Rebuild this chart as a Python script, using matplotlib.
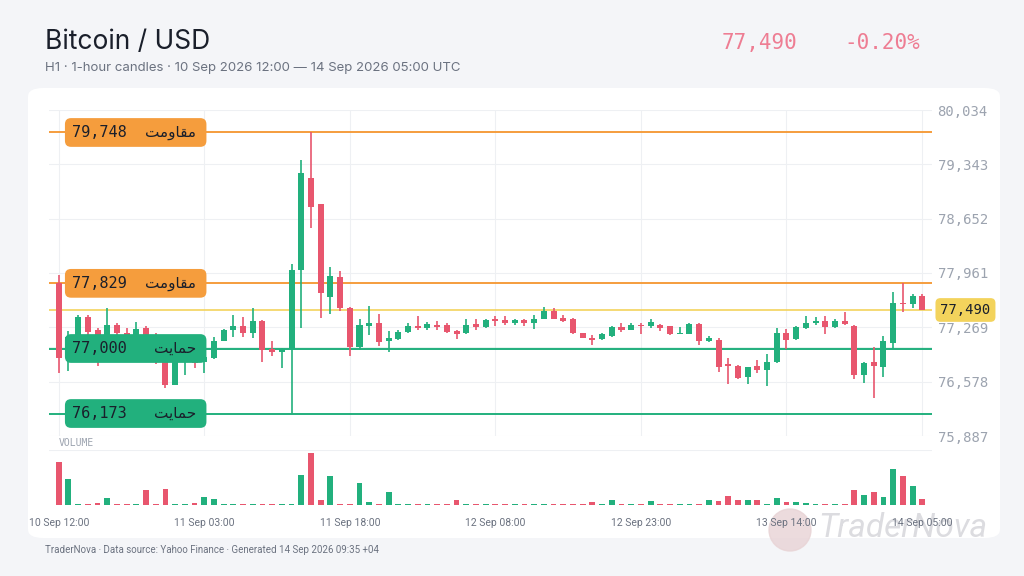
import matplotlib
matplotlib.use("Agg")
import matplotlib.pyplot as plt
from matplotlib.patches import FancyBboxPatch, Ellipse
import numpy as np

opens = [77833,76950,77050,77400,77230,77100,77300,77200,77100,77260,77150,76830,76540,76900,76950,76830,76880,77100,77240,77280,
         77200,77350,77000,76950,77000,78000,79170,78840,77660,77910,77520,77020,77290,77330,77100,77120,77210,77290,77260,77300,
         77300,77220,77200,77310,77270,77370,77360,77330,77360,77330,77380,77480,77390,77380,77200,77140,77120,77160,77270,77240,
         77300,77280,77300,77280,77190,77190,77310,77090,77110,76800,76780,76640,76780,76730,76830,77200,77120,77260,77320,77350,
         77270,77350,77290,76660,76830,76770,77070,77580,77560,77670]
closes = [76880,77150,77400,77210,77150,77300,77200,77150,77250,77150,76850,76540,76950,76980,76820,76890,77100,77240,77290,77200,
          77350,76980,76950,77000,78000,79230,78800,77710,77920,77520,77020,77300,77330,77080,77130,77210,77290,77260,77310,77270,
          77210,77180,77300,77270,77360,77350,77320,77360,77330,77380,77480,77380,77350,77200,77140,77110,77180,77270,77240,77300,
          77280,77340,77260,77180,77200,77310,77100,77130,76770,76780,76620,76760,76730,76830,77200,77110,77270,77320,77350,77270,
          77350,77310,76660,76820,76780,77090,77580,77560,77670,77490]
highs = [77935,77220,77420,77420,77260,77520,77330,77260,77340,77280,77200,76870,77000,77020,76990,76920,77150,77250,77430,77400,
         77520,77360,77100,77010,78080,79400,79760,78840,78040,77990,77530,77370,77540,77440,77220,77230,77330,77410,77340,77350,
         77330,77240,77370,77370,77370,77410,77410,77370,77370,77420,77530,77510,77420,77390,77200,77170,77200,77290,77330,77320,
         77330,77370,77310,77290,77270,77320,77320,77160,77130,76880,76790,76770,76860,76930,77260,77250,77280,77410,77400,77410,
         77370,77470,77300,76830,77020,77160,77720,77830,77690,77690]
lows = [76690,76720,76950,77100,76780,77000,77120,77050,77000,77050,76800,76500,76530,76660,76750,76690,76870,77090,77150,77150,
        77130,76830,76900,76750,76170,77260,78530,77390,77440,77480,76900,76980,77170,77030,76950,77110,77200,77240,77230,77230,
        77200,77120,77190,77240,77260,77290,77300,77300,77290,77250,77370,77370,77340,77180,77130,77050,77110,77150,77210,77230,
        77180,77260,77220,77170,77180,77180,77040,77080,76700,76550,76610,76550,76690,76520,76820,76990,77110,77250,77300,77180,
        77260,77300,76610,76560,76370,76640,77000,77460,77510,77490]
volume = [128,78,2,2,5,22,2,2,2,44,2,48,2,2,6,23,17,2,2,2,
          2,4,2,2,2,90,155,14,88,2,2,65,8,2,38,2,2,2,2,2,
          2,14,2,2,2,2,2,2,2,2,2,2,2,2,2,10,2,16,2,3,
          2,12,2,4,2,2,2,16,12,28,14,15,15,2,20,8,8,6,2,2,
          2,2,44,30,38,25,107,88,58,17]
tick_idx = [0,15,30,45,60,75,89]
tick_labels = ["10 Sep 12:00","11 Sep 03:00","11 Sep 18:00","12 Sep 08:00","12 Sep 23:00","13 Sep 14:00","14 Sep 05:00"]
price_ticks = [75887,76578,77269,77961,78652,79343,80034]
res_levels = [79748,77829]
sup_levels = [77000,76173]
last_price = 77490
change_pct = -0.20

GREEN = "#22b07d"; RED = "#e8566e"; ORANGE = "#f59d3d"; YEL = "#f3d35c"
MONO = ["DejaVu Sans Mono", "DejaVu Sans"]
AR_RES = "\uFE96\uFEE3\uFEED\uFE8E\uFED8\uFEE3"
AR_SUP = "\uFE96\uFEF3\uFE8E\uFEE4\uFEA3"

fig = plt.figure(figsize=(10.24, 5.76), dpi=100)
fig.patch.set_facecolor("#f4f5f8")
card = FancyBboxPatch((28/1024, 38/576), 972/1024, 450/576, boxstyle="round,pad=0,rounding_size=0.015",
                      transform=fig.transFigure, facecolor="white", edgecolor="none", zorder=-10)
fig.patches.append(card)
fig.patches.append(Ellipse((790/1024, 1-530/576), 42/1024, 42/576, transform=fig.transFigure,
                           color="#e8d3d5", alpha=0.8, zorder=-5))
fig.text(818/1024, 1-528/576, "TraderNova", fontsize=24, color="#dcdce0", style="italic", va="center",
         family="Roboto", zorder=-5)

fig.text(45/1024, 1-42/576, "Bitcoin / USD", fontsize=19, color="#1a1f2b", va="center", family="Inter")
fig.text(45/1024, 1-68/576, "H1 · 1-hour candles · 10 Sep 2026 12:00 — 14 Sep 2026 05:00 UTC", fontsize=9.5, color="#6b7280", va="center", family="Inter")
fig.text(797/1024, 1-43/576, f"{last_price:,}", fontsize=15, color="#ee7d93", ha="right", va="center", family=MONO)
fig.text(920/1024, 1-43/576, f"{change_pct:.2f}%", fontsize=15, color="#ee7d93", ha="right", va="center", family=MONO)
fig.text(45/1024, 1-550/576, "TraderNova · Data source: Yahoo Finance · Generated 14 Sep 2026 09:35 +04", fontsize=7, color="#6b7280", va="center", family="Roboto")

x = np.arange(len(opens))
ax = fig.add_axes([49/1024, 1-436/576, 883/1024, 326/576])
ax.patch.set_alpha(0)
ax.set_xlim(-1, 90); ax.set_ylim(price_ticks[0], price_ticks[-1])
for s in ax.spines.values(): s.set_visible(False)
ax.set_yticks(price_ticks); ax.set_yticklabels([f"{v:,}" for v in price_ticks], family=MONO, fontsize=10, color="#9ca3af")
ax.yaxis.tick_right(); ax.tick_params(axis="y", length=0, pad=4)
ax.set_xticks(tick_idx); ax.tick_params(axis="x", length=0, labelbottom=False)
ax.grid(True, color="#eef0f3", lw=0.8); ax.set_axisbelow(True)

for i in x:
    c = GREEN if closes[i] >= opens[i] else RED
    ax.vlines(i, lows[i], highs[i], color=c, lw=1.2, zorder=3)
    lo, hi = min(opens[i], closes[i]), max(opens[i], closes[i])
    ax.bar(i, max(hi-lo, 12), bottom=lo, width=0.62, color=c, zorder=4)

ax.axhspan(sup_levels[0]-25, sup_levels[0]+25, color=GREEN, alpha=0.12, lw=0, zorder=2)
for lv in res_levels: ax.axhline(lv, color=ORANGE, lw=1.4, zorder=2)
for lv in sup_levels: ax.axhline(lv, color=GREEN, lw=1.4, zorder=2)
ax.axhline(last_price, color=YEL, lw=1.2, zorder=2)

def tag(lv, col, ar):
    ax.annotate(f"{lv:,}" + " " * 8, xy=(1.35, lv), xycoords="data", fontsize=11, family=MONO, color="#1a1f2b",
                va="center", ha="left", zorder=6,
                bbox=dict(boxstyle="round,pad=0.45,rounding_size=0.4", fc=col, ec="none"))
    ax.text(14.2, lv, ar, fontsize=11, family="DejaVu Sans", color="#1a1f2b", va="center", ha="right", zorder=7)
for lv in res_levels: tag(lv, ORANGE, AR_RES)
for lv in sup_levels: tag(lv, GREEN, AR_SUP)
ax.annotate(f"{last_price:,}", xy=(1.0, last_price), xycoords=("axes fraction", "data"), xytext=(6, 0),
            textcoords="offset points", fontsize=10, family=MONO, color="#1a1f2b", va="center", ha="left", zorder=7,
            bbox=dict(boxstyle="round,pad=0.35,rounding_size=0.35", fc=YEL, ec="none"), annotation_clip=False)

vax = fig.add_axes([49/1024, 1-505/576, 883/1024, 55/576])
vax.patch.set_alpha(0)
vax.set_xlim(-1, 90); vax.set_ylim(0, 165)
for s in vax.spines.values(): s.set_visible(False)
vcol = [GREEN if closes[i] >= opens[i] else RED for i in x]
vax.bar(x, volume, width=0.6, color=vcol)
vax.set_yticks([]); vax.set_xticks(tick_idx); vax.set_xticklabels(tick_labels, fontsize=7.5, color="#6b7280", family="Roboto")
vax.tick_params(axis="x", length=0, pad=9)
vax.axhline(165, color="#eef0f3", lw=0.8)
fig.text(59/1024, 1-443/576, "VOLUME", fontsize=7, color="#9ca3af", family=MONO, va="center")

fig.savefig("out.png", dpi=100, facecolor=fig.get_facecolor())
